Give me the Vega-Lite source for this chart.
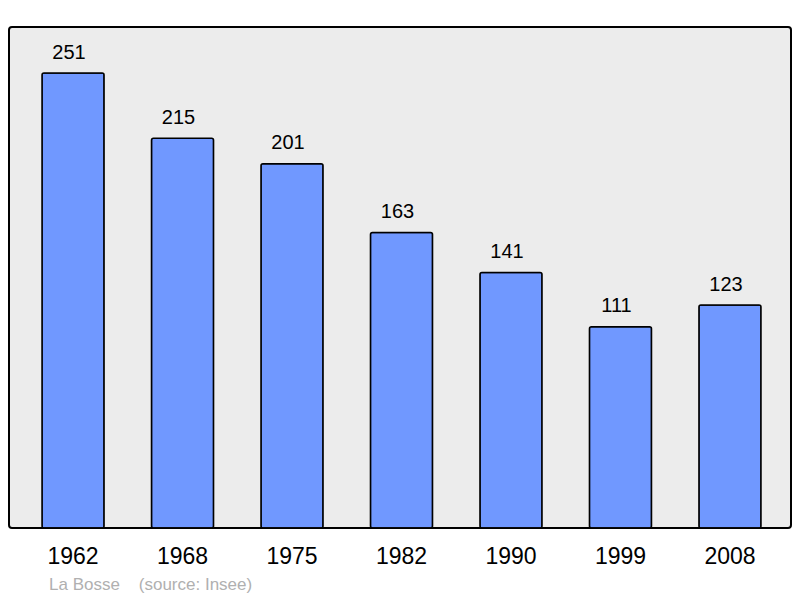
{
  "$schema": "https://vega.github.io/schema/vega-lite/v6.json",
  "autosize": "none",
  "width": 782,
  "height": 501,
  "padding": {"left": 9, "top": 27, "right": 9, "bottom": 70},
  "background": "white",
  "config": {
    "font": "Liberation Sans",
    "view": {"fill": "#ececec", "stroke": "black", "strokeWidth": 2, "cornerRadius": 3}
  },
  "title": {
    "text": "La Bosse\u00a0\u00a0\u00a0\u00a0(source: Insee)",
    "orient": "bottom",
    "anchor": "start",
    "dx": 40,
    "offset": 9,
    "fontSize": 17,
    "fontWeight": "normal",
    "color": "#b0b0b0",
    "font": "Liberation Sans"
  },
  "data": {
    "values": [
      {"year": "1962", "pop": 251},
      {"year": "1968", "pop": 215},
      {"year": "1975", "pop": 201},
      {"year": "1982", "pop": 163},
      {"year": "1990", "pop": 141},
      {"year": "1999", "pop": 111},
      {"year": "2008", "pop": 123}
    ]
  },
  "encoding": {
    "x": {
      "field": "year", "type": "ordinal", "sort": null,
      "scale": {"range": [33, 752], "paddingInner": 0.433, "paddingOuter": 0},
      "axis": {"title": null, "domain": false, "ticks": false, "labelFontSize": 23, "labelPadding": 17, "labelColor": "black", "labelAngle": 0}
    },
    "y": {
      "field": "pop", "type": "quantitative",
      "scale": {"domain": [0, 276.4], "nice": false, "zero": true},
      "axis": null
    }
  },
  "layer": [
    {"mark": {"type": "bar", "fill": "#7098ff", "stroke": "black", "strokeWidth": 1.5, "cornerRadius": 2}},
    {"mark": {"type": "text", "dx": -4, "dy": -14.5, "baseline": "alphabetic", "fontSize": 20, "color": "black"}, "encoding": {"text": {"field": "pop"}}}
  ]
}
